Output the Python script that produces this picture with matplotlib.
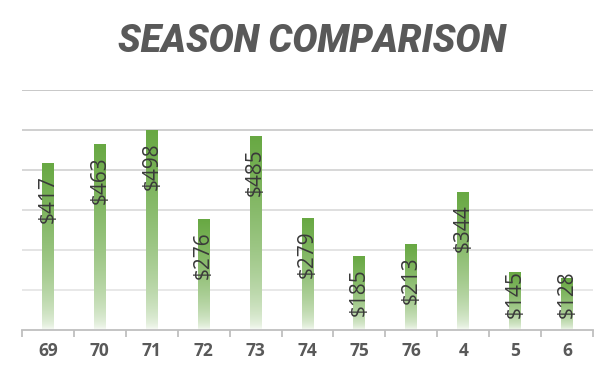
import numpy as np
import matplotlib
matplotlib.use("Agg")
import matplotlib.pyplot as plt
from matplotlib.colors import to_rgb

seasons = ['69', '70', '71', '72', '73', '74', '75', '76', '4', '5', '6']
totals = [417, 463, 498, 276, 485, 279, 185, 213, 344, 145, 128]

green = np.array(to_rgb('#68a843'))
white = np.ones(3)

fig = plt.figure(figsize=(6.16, 3.8), dpi=100, facecolor='w')
ax = fig.add_axes([22 / 616, 50 / 380, 571 / 616, 240 / 380])

x = np.arange(len(seasons))
bw = 0.23

# gridlines get lighter towards the bottom
grid_cols = ['#e6e6e6', '#e2e2e2', '#dcdcdc', '#d4d4d4', '#cccccc', '#c4c4c4']
for k, yv in enumerate(range(100, 700, 100)):
    ax.axhline(yv, color=grid_cols[k], lw=1.3, zorder=0)

# gradient bars: green top fading to white at base
t = np.linspace(0, 1, 200)[:, None]
f = t ** 0.5
grad = (white * (1 - f) + green * f)[:, None, :]
for xi, v in zip(x, totals):
    ax.imshow(grad, extent=[xi - bw / 2, xi + bw / 2, 0, v], origin='lower',
              aspect='auto', zorder=2, interpolation='bilinear')
    ytxt = max(v - 30, 150)
    ax.text(xi, ytxt, f'${v}', rotation=90, ha='center', va='top',
            fontsize=15, color='#3a3a3a', family='Open Sans', zorder=3)

ax.set_xlim(-0.5, len(seasons) - 0.5)
ax.set_ylim(0, 600)

for s in ['top', 'right', 'left']:
    ax.spines[s].set_visible(False)
ax.spines['bottom'].set_color('#bfbfbf')
ax.spines['bottom'].set_linewidth(1.3)
ax.set_yticks([])
ax.set_xticks(np.arange(-0.5, len(seasons), 1))
ax.set_xticklabels([])
ax.tick_params(axis='x', which='major', length=5, color='#bfbfbf', width=1.3)
ax.set_xticks(x, minor=True)
ax.set_xticklabels(seasons, minor=True, fontsize=12.5, fontweight='bold',
                   color='#595959', family='Open Sans')
ax.tick_params(axis='x', which='minor', length=0, pad=9)

fig.text(312 / 616, 1 - 42 / 380, 'SEASON COMPARISON', ha='center', va='center',
         fontsize=27, fontweight='black', style='italic', color='#595959',
         family='Roboto')

fig.savefig('out.png', dpi=100, facecolor='w')
